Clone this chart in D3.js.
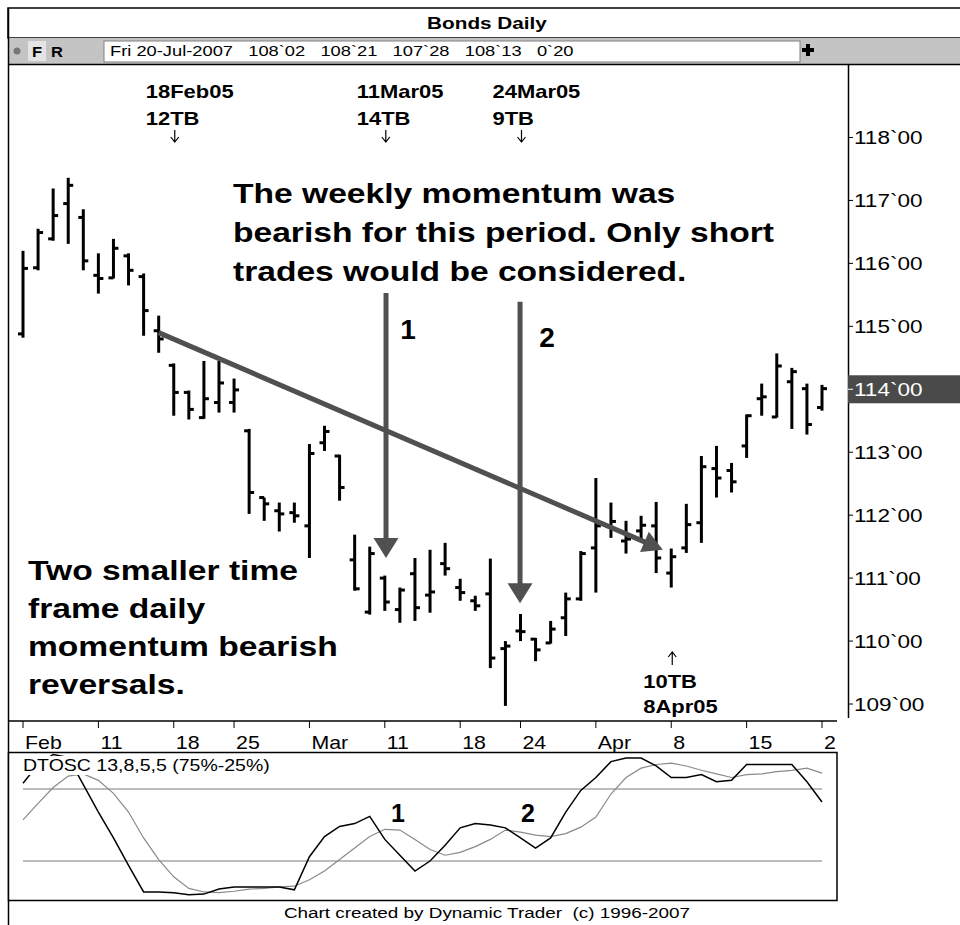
<!DOCTYPE html>
<meta charset="utf-8">
<head>
<style>
body { margin: 0; background: #fff; }
svg { display: block; }
text { font-family: "Liberation Sans", Arial, sans-serif; }
</style>
</head>
<body>
<div id="chart"></div>
<script src="https://cdn.jsdelivr.net/npm/d3@7"></script>
<script>

// trading days shown on the chart
var dates = [
  "2005-02-04","2005-02-07","2005-02-08","2005-02-09","2005-02-10","2005-02-11",
  "2005-02-14","2005-02-15","2005-02-16","2005-02-17","2005-02-18",
  "2005-02-22","2005-02-23","2005-02-24","2005-02-25",
  "2005-02-28","2005-03-01","2005-03-02","2005-03-03","2005-03-04",
  "2005-03-07","2005-03-08","2005-03-09","2005-03-10","2005-03-11",
  "2005-03-14","2005-03-15","2005-03-16","2005-03-17","2005-03-18",
  "2005-03-21","2005-03-22","2005-03-23","2005-03-24",
  "2005-03-28","2005-03-29","2005-03-30","2005-03-31","2005-04-01",
  "2005-04-04","2005-04-05","2005-04-06","2005-04-07","2005-04-08",
  "2005-04-11","2005-04-12","2005-04-13","2005-04-14","2005-04-15",
  "2005-04-18","2005-04-19","2005-04-20","2005-04-21","2005-04-22"
];

var opens = [114.88,115.93,116.39,116.95,116.73,115.81,115.77,116.12,115.79,114.93,114.38,
  113.95,113.55,113.79,113.79,113.34,112.28,112.07,112.04,111.83,113.15,112.94,111.29,110.46,111.00,
  110.50,111.07,110.73,111.23,110.85,110.64,110.75,109.88,110.16,110.03,109.97,110.37,110.67,111.48,
  111.83,111.59,111.75,111.83,111.08,111.48,111.88,112.74,112.71,113.10,113.85,113.56,114.12,114.01,113.71];
var highs = [116.20,116.55,117.19,117.36,116.86,116.16,116.39,116.16,115.84,115.17,114.41,
  113.98,114.45,114.45,114.17,113.37,112.28,112.20,112.20,113.13,113.42,112.96,111.69,111.50,111.04,
  110.85,111.32,111.45,111.56,110.99,110.72,111.31,110.00,110.43,110.05,110.32,110.77,111.43,112.59,
  112.20,111.91,111.99,112.21,111.47,112.18,112.94,113.10,112.83,113.60,114.09,114.57,114.34,114.09,114.07];
var lows = [114.82,115.89,116.36,116.31,115.89,115.52,115.76,115.65,114.85,114.58,113.58,
  113.52,113.53,113.63,113.63,112.02,111.91,111.74,111.88,111.32,113.02,112.23,110.80,110.42,110.48,
  110.29,110.32,110.45,111.04,110.64,110.48,109.57,108.97,110.00,109.68,109.96,110.08,110.64,110.77,
  111.64,111.39,111.57,111.08,110.85,111.40,111.56,112.28,112.36,112.91,113.58,113.55,113.37,113.28,113.66];
var closes = [115.92,116.49,116.76,117.24,116.04,115.76,116.24,115.89,115.25,114.80,113.95,
  113.68,113.85,114.10,113.99,112.36,112.18,112.02,111.99,112.98,113.33,112.44,110.83,111.39,110.62,
  110.81,110.53,110.78,111.15,110.77,110.56,109.73,109.92,110.15,109.86,110.19,110.67,111.39,111.83,
  111.90,111.62,111.84,111.32,111.34,111.85,112.77,112.59,112.53,113.58,113.88,114.37,114.28,113.44,114.01];

// DTOSC fast (black) and slow (grey) lines, in percent
var oscFast = [79,92,99,97,78,59,41,22,3.5,3.5,3,1.5,2,5.5,7,7,7,7,5,28,42,49,51,56,40,29,18,25,36,48,
  51,50,48,41,34,41,59,74,83,94,96.5,96.5,91,83,83,85,80,81,92,92,92,92,80,66];
var oscSlow = [53.5,65,76,84,85.5,81,72,59,41,26,14,6,3.5,3,4,5.5,6,7,7.5,12,18,26,34,42,47,46.5,40,33,29,31,
  35,40,46.5,45,43,42,44,48.5,55.5,71.5,83,89.5,92,93,91,88,85.5,83,85,85.5,87,88,89.5,86];
var oscLevels = [75, 25];

var tickDates = ["2005-02-04","2005-02-11","2005-02-18","2005-02-25","2005-03-04","2005-03-11",
  "2005-03-18","2005-03-24","2005-04-01","2005-04-08","2005-04-15","2005-04-22"];
var tickLabels = ["Feb","11","18","25","Mar","11","18","24","Apr","8","15","2"];

var priceTicks = [109,110,111,112,113,114,115,116,117,118];
var priceLabels = ["109`00","110`00","111`00","112`00","113`00","114`00","115`00","116`00","117`00","118`00"];
var lastPrice = 114;

// time band markers
var tbDates = ["2005-02-18","2005-03-11","2005-03-24","2005-04-08"];
var tbNames = ["18Feb05","11Mar05","24Mar05","8Apr05"];
var tbCounts = ["12TB","14TB","9TB","10TB"];
var tbUp = [false,false,false,true];

// annotation arrows, as [index, price] pairs
var trendLine = [[9, 114.90],[42.44, 111.45]];
var arrow1 = [[24.08, 115.53],[24.08, 111.32]];
var arrow2 = [[32.97, 115.39],[32.97, 110.60]];

var toolbarText = "Fri 20-Jul-2007   108`02   108`21   107`28   108`13   0`20";

var W = 960, H = 925;
var SX = 1.22; // the screenshot is stretched sideways

var svg = d3.select("#chart").append("svg")
  .attr("width", W).attr("height", H);

function label(parent, px, py, str, size, weight, anchor, fill, sx) {
  return parent.append("text")
    .attr("transform", "translate(" + px + "," + py + ") scale(" + (sx || SX) + ",1)")
    .attr("text-anchor", anchor || "start")
    .style("font-size", size + "px")
    .style("font-weight", weight || "normal")
    .style("white-space", "pre")
    .attr("fill", fill || "#000")
    .text(str);
}

// scales
var x = d3.scaleLinear().domain([0, dates.length - 1]).range([23, 822]);
var y = d3.scaleLinear().domain([109, 118]).range([704, 137.5]);
var yo = d3.scaleLinear().domain([0, 100]).range([897, 753]);
function xd(d) { return x(dates.indexOf(d)); }

// ---- title and toolbar ----
svg.append("rect").attr("x", 8).attr("y", 8).attr("width", W).attr("height", 30)
  .attr("fill", "#fff").attr("stroke", "#000").attr("stroke-width", 1.5);
label(svg, 487, 29, "Bonds Daily", 17, "bold", "middle");

svg.append("rect").attr("x", 8).attr("y", 38).attr("width", W).attr("height", 26)
  .attr("fill", "#c4c4c4");
svg.append("line").attr("x1", 8).attr("x2", W).attr("y1", 64.5).attr("y2", 64.5)
  .attr("stroke", "#000").attr("stroke-width", 1.5);
svg.append("circle").attr("cx", 17).attr("cy", 51).attr("r", 3.5).attr("fill", "#777");
svg.append("rect").attr("x", 28).attr("y", 41).attr("width", 18).attr("height", 20).attr("fill", "#e4e4e4");
label(svg, 32, 57, "F", 15, "bold", "start", "#000", 1.1);
label(svg, 51, 57, "R", 15, "bold", "start", "#000", 1.1);
svg.append("rect").attr("x", 104).attr("y", 41).attr("width", 696).attr("height", 21)
  .attr("fill", "#fff").attr("stroke", "#808080").attr("stroke-width", 1);
label(svg, 110, 56, toolbarText, 15, "normal", "start", "#000");
svg.append("rect").attr("x", 802).attr("y", 48).attr("width", 12).attr("height", 4).attr("fill", "#000");
svg.append("rect").attr("x", 806).attr("y", 44).attr("width", 4).attr("height", 12).attr("fill", "#000");

// outer left border
svg.append("line").attr("x1", 8.5).attr("x2", 8.5).attr("y1", 8).attr("y2", H)
  .attr("stroke", "#000").attr("stroke-width", 1.5);

// ---- price pane ----
svg.append("defs").append("clipPath").attr("id", "plotClip")
  .append("rect").attr("x", 9).attr("y", 66).attr("width", 828).attr("height", 654);
svg.select("defs").append("clipPath").attr("id", "oscClip")
  .append("rect").attr("x", 9).attr("y", 753).attr("width", 828).attr("height", 147);

var plot = svg.append("g").attr("clip-path", "url(#plotClip)");

var bars = plot.selectAll("g.bar").data(dates).join("g").attr("class", "bar");
bars.append("line")
  .attr("x1", function(d, i) { return x(i); }).attr("x2", function(d, i) { return x(i); })
  .attr("y1", function(d, i) { return y(highs[i]); }).attr("y2", function(d, i) { return y(lows[i]); })
  .attr("stroke", "#000").attr("stroke-width", 3);
bars.append("line")
  .attr("x1", function(d, i) { return x(i) - 5; }).attr("x2", function(d, i) { return x(i); })
  .attr("y1", function(d, i) { return y(opens[i]); }).attr("y2", function(d, i) { return y(opens[i]); })
  .attr("stroke", "#000").attr("stroke-width", 3);
bars.append("line")
  .attr("x1", function(d, i) { return x(i); }).attr("x2", function(d, i) { return x(i) + 5; })
  .attr("y1", function(d, i) { return y(closes[i]); }).attr("y2", function(d, i) { return y(closes[i]); })
  .attr("stroke", "#000").attr("stroke-width", 3);

// grey arrows
function drawArrow(pts, head, halfW) {
  var x1 = x(pts[0][0]), y1 = y(pts[0][1]), x2 = x(pts[1][0]), y2 = y(pts[1][1]);
  var len = Math.hypot(x2 - x1, y2 - y1), ux = (x2 - x1) / len, uy = (y2 - y1) / len;
  var bx = x2 - ux * head, by = y2 - uy * head;
  plot.append("line").attr("x1", x1).attr("y1", y1).attr("x2", bx + ux * 2).attr("y2", by + uy * 2)
    .attr("stroke", "#505050").attr("stroke-width", 5);
  plot.append("path")
    .attr("d", "M" + x2 + "," + y2 + "L" + (bx - uy * halfW) + "," + (by + ux * halfW) +
      "L" + (bx + uy * halfW) + "," + (by - ux * halfW) + "Z")
    .attr("fill", "#505050");
}
drawArrow(trendLine, 20, 11);
drawArrow(arrow1, 20, 12.5);
drawArrow(arrow2, 20, 12.5);

// small thin pointer arrows under / over the time band labels
function pointer(ax, yFrom, yTo) {
  var dir = yTo > yFrom ? 1 : -1;
  plot.append("path")
    .attr("d", "M" + ax + "," + yFrom + "V" + yTo +
      "M" + (ax - 4) + "," + (yTo - dir * 5) + "L" + ax + "," + yTo + "L" + (ax + 4) + "," + (yTo - dir * 5))
    .attr("fill", "none").attr("stroke", "#000").attr("stroke-width", 1.2);
}

// time band labels
tbDates.forEach(function(d, k) {
  var ax = xd(d) + 1;
  if (!tbUp[k]) {
    label(plot, ax - 29, 98, tbNames[k], 18, "bold");
    label(plot, ax - 29, 125, tbCounts[k], 18, "bold");
    pointer(ax, 130, 142);
  } else {
    pointer(ax, 665, 652);
    label(plot, ax - 29, 688, tbCounts[k], 18, "bold");
    label(plot, ax - 29, 713, tbNames[k], 18, "bold");
  }
});

// commentary
["The weekly momentum was", "bearish for this period. Only short", "trades would be considered."]
  .forEach(function(s, k) { label(plot, 233, 203 + k * 39, s, 28, "bold", "start", "#000", 1.2); });
["Two smaller time", "frame daily", "momentum bearish", "reversals."]
  .forEach(function(s, k) { label(plot, 28, 580 + k * 38, s, 28, "bold", "start", "#000", 1.2); });
label(plot, 408, 339, "1", 28, "bold", "middle", "#000", 1);
label(plot, 547, 347, "2", 28, "bold", "middle", "#000", 1);

// price axis
svg.append("line").attr("x1", 848.5).attr("x2", 848.5).attr("y1", 65).attr("y2", 718)
  .attr("stroke", "#000").attr("stroke-width", 1.5);
svg.append("rect").attr("x", 848).attr("y", y(lastPrice) - 14).attr("width", W - 848).attr("height", 28)
  .attr("fill", "#4a4a4a");
priceTicks.forEach(function(p, k) {
  svg.append("line").attr("x1", 848).attr("x2", 853).attr("y1", y(p)).attr("y2", y(p))
    .attr("stroke", p === lastPrice ? "#fff" : "#000").attr("stroke-width", 1);
  label(svg, 854, y(p) + 6.5, priceLabels[k], 18.5, "normal", "start", p === lastPrice ? "#fff" : "#000");
});

// date axis
svg.append("line").attr("x1", 9).attr("x2", 837).attr("y1", 721).attr("y2", 721)
  .attr("stroke", "#000").attr("stroke-width", 1.5);
var dateG = svg.append("g");
tickDates.forEach(function(d, k) {
  var tx = xd(d);
  dateG.append("line").attr("x1", tx).attr("x2", tx).attr("y1", 721).attr("y2", 728)
    .attr("stroke", "#000").attr("stroke-width", 1);
  label(dateG, tx + 2, 749, tickLabels[k], 17.5, "normal");
});

// ---- oscillator pane ----
svg.append("rect").attr("x", 8.5).attr("y", 752.5).attr("width", 828.5).attr("height", 148)
  .attr("fill", "#fff").attr("stroke", "#000").attr("stroke-width", 1.5);
var osc = svg.append("g").attr("clip-path", "url(#oscClip)");
oscLevels.forEach(function(v) {
  osc.append("line").attr("x1", x(0)).attr("x2", x(dates.length - 1)).attr("y1", yo(v)).attr("y2", yo(v))
    .attr("stroke", "#7a7a7a").attr("stroke-width", 1.2);
});
var oscLine = d3.line().x(function(d, i) { return x(i); }).y(function(d) { return yo(d); });
osc.append("path").attr("d", oscLine(oscSlow)).attr("fill", "none")
  .attr("stroke", "#8a8a8a").attr("stroke-width", 1.2);
osc.append("path").attr("d", oscLine(oscFast)).attr("fill", "none")
  .attr("stroke", "#000").attr("stroke-width", 1.5);
osc.append("rect").attr("x", 20).attr("y", 756).attr("width", 250).attr("height", 19).attr("fill", "#fff");
label(osc, 23, 771, "DTOSC 13,8,5,5 (75%-25%)", 16, "normal");
label(osc, 398, 822, "1", 25, "bold", "middle", "#000", 1);
label(osc, 528, 822, "2", 25, "bold", "middle", "#000", 1);

// footer
label(svg, 487, 918, "Chart created by Dynamic Trader  (c) 1996-2007", 15.5, "normal", "middle");

</script>
</body>
